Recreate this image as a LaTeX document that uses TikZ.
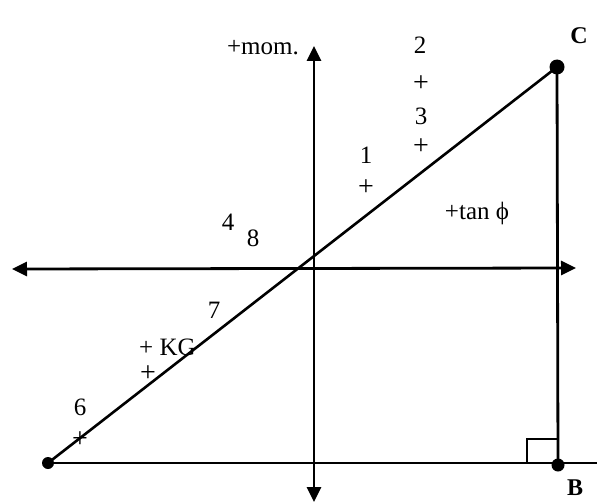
\documentclass[tikz,border=0pt]{standalone}
\usepackage{fontspec}
\setmainfont{Liberation Serif}
\usetikzlibrary{arrows.meta}

\begin{document}
\begin{tikzpicture}[x=1pt, y=-1pt,
    axisline/.style={line width=2.8pt, {Triangle[length=15pt, width=14pt]}-{Triangle[length=15pt, width=14pt]}},
    thinline/.style={line width=1.6pt},
    dot/.style={circle, fill=black, inner sep=0pt, minimum size=#1},
    lbl/.style={font=\fontsize{25}{28}\selectfont, inner sep=0pt},
    plus/.style={font=\fontsize{28}{30}\selectfont, inner sep=0pt}]
  \useasboundingbox (0,0) rectangle (597,503);
  % axes
  \coordinate (top) at (314,46);
  \coordinate (bot) at (314,502);
  \coordinate (lft) at (12,269);
  \coordinate (rgt) at (576,268);
  \draw[axisline] (bot) -- (top);
  \draw[axisline] (lft) -- (rgt);
  % triangle
  \node[dot=12pt] (A) at (48,463) {};
  \node[dot=13pt] (B) at (558,465) {};
  \node[dot=15pt] (C) at (557,67) {};
  \coordinate (baseend) at (597,463);
  \draw[thinline] (A.center) -- (baseend);
  \draw[line width=2.6pt] (A.center) -- (C.center);
  \draw[line width=2.8pt] (C.center) -- (B.center);
  \draw[thinline] (527,463) |- (557,439);
  \node[lbl, font=\fontsize{24}{28}\selectfont\bfseries] (Clbl) at (579,36) {C};
  \node[lbl, font=\fontsize{24}{28}\selectfont\bfseries] (Blbl) at (575,488) {B};
  % labels
  \node[lbl] (mom) at (263,48) {+mom.};
  \node[lbl] (tan) at (477,213) {+tan ϕ};
  \node[lbl, anchor=base west] (KG) at (139,355) {+ KG};
  \foreach \txt/\x/\y [count=\i] in {2/420/45, 3/421/116, 1/366/155, 4/228/222, 8/253/238, 7/214/310, 6/80/407}
    \node[lbl] (num\i) at (\x,\y) {\txt};
  % plus marks
  \foreach \x/\y [count=\i] in {421/84, 421/147, 366/188, 148/374, 80/440}
    \node[plus] (pl\i) at (\x,\y) {+};
\end{tikzpicture}
\end{document}
